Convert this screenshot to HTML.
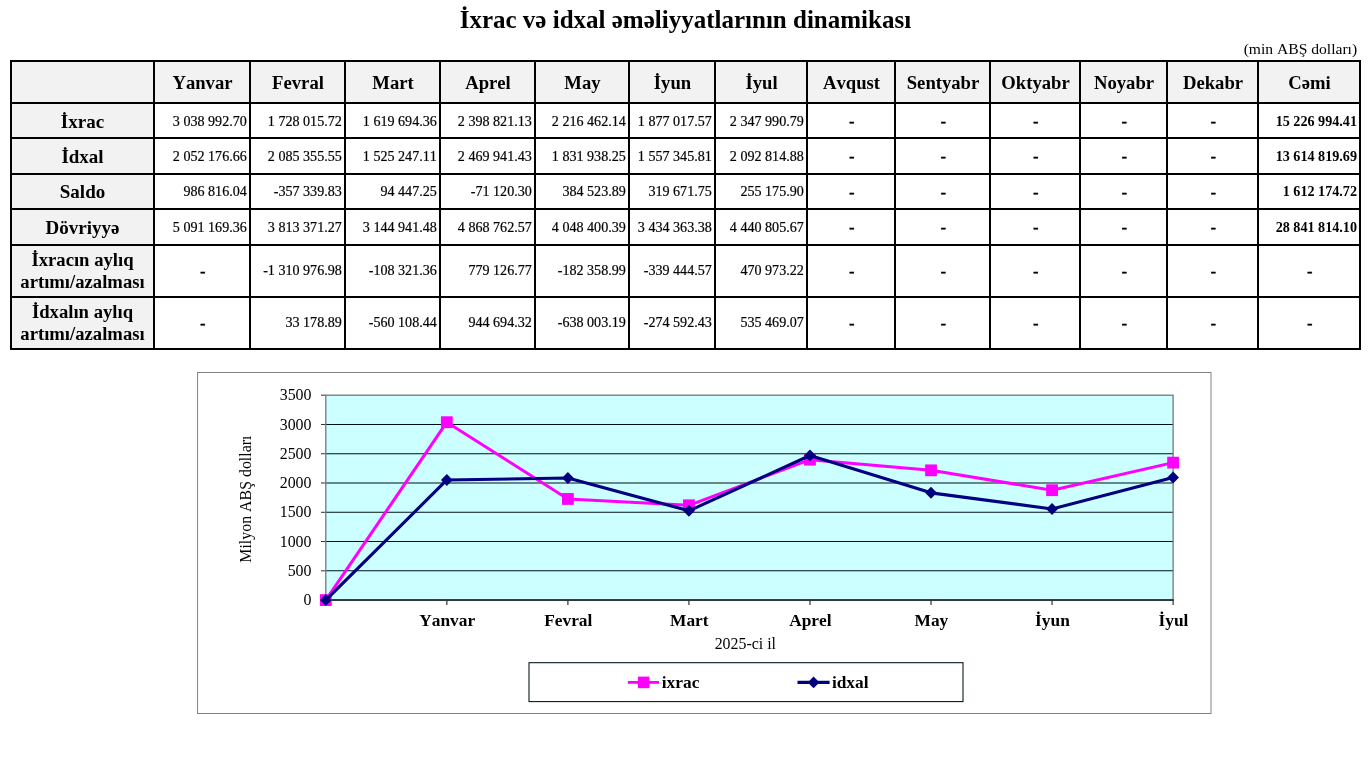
<!DOCTYPE html>
<html lang="az"><head><meta charset="utf-8"><title>İxrac və idxal əməliyyatlarının dinamikası</title>
<style>
html,body{margin:0;padding:0;background:#fff;}
body{width:1372px;height:771px;position:relative;overflow:hidden;font-family:"Liberation Serif","Times New Roman",serif;color:#000;font-kerning:none;font-variant-ligatures:none;}
.abs{position:absolute;}
h1{position:absolute;left:-0.6px;top:4.7px;width:1372px;margin:0;text-align:center;font-size:25px;font-weight:bold;line-height:30px;}
.unit{position:absolute;right:14.9px;top:39.8px;font-size:15.6px;line-height:18px;}
.c{position:absolute;display:flex;align-items:center;box-sizing:border-box;white-space:nowrap;}
.h{justify-content:center;font-weight:bold;font-size:18.67px;background:#f2f2f2;padding-top:1.5px;padding-left:1px;}
.l{justify-content:center;font-weight:bold;font-size:18.67px;background:#f2f2f2;text-align:center;line-height:22.5px;}
.n{justify-content:flex-end;font-size:14.1px;padding-right:3.2px;padding-top:2px;-webkit-text-stroke:0.2px #000;}
.d{justify-content:center;font-size:15.3px;font-weight:bold;padding-top:0.4px;padding-left:1.6px;-webkit-text-stroke:0.6px #000;}
.t{justify-content:flex-end;font-size:14.15px;font-weight:bold;padding-right:3px;padding-top:2px;}
svg{position:absolute;left:0;top:0;}
svg text{font-family:"Liberation Serif","Times New Roman",serif;font-kerning:none;}
</style></head><body>
<h1>İxrac və idxal əməliyyatlarının dinamikası</h1>
<div class="unit">(min ABŞ dolları)</div>

<div class="c h" style="left:11px;top:61px;width:143.0px;height:42.0px"></div>
<div class="c h" style="left:154px;top:61px;width:96.0px;height:42.0px">Yanvar</div>
<div class="c h" style="left:250px;top:61px;width:95.0px;height:42.0px">Fevral</div>
<div class="c h" style="left:345px;top:61px;width:95.0px;height:42.0px">Mart</div>
<div class="c h" style="left:440px;top:61px;width:95.0px;height:42.0px">Aprel</div>
<div class="c h" style="left:535px;top:61px;width:94.0px;height:42.0px">May</div>
<div class="c h" style="left:629px;top:61px;width:86.0px;height:42.0px">İyun</div>
<div class="c h" style="left:715px;top:61px;width:92.0px;height:42.0px">İyul</div>
<div class="c h" style="left:807px;top:61px;width:88.0px;height:42.0px">Avqust</div>
<div class="c h" style="left:895px;top:61px;width:95.0px;height:42.0px">Sentyabr</div>
<div class="c h" style="left:990px;top:61px;width:90.0px;height:42.0px">Oktyabr</div>
<div class="c h" style="left:1080px;top:61px;width:87.0px;height:42.0px">Noyabr</div>
<div class="c h" style="left:1167px;top:61px;width:91.0px;height:42.0px">Dekabr</div>
<div class="c h" style="left:1258px;top:61px;width:102.0px;height:42.0px">Cəmi</div>
<div class="c l" style="left:11px;top:103px;width:143.0px;height:35.0px;padding-top:3.4px;font-size:19px"><span>İxrac</span></div>
<div class="c n" style="left:154px;top:103px;width:96.0px;height:35.0px">3 038 992.70</div>
<div class="c n" style="left:250px;top:103px;width:95.0px;height:35.0px">1 728 015.72</div>
<div class="c n" style="left:345px;top:103px;width:95.0px;height:35.0px">1 619 694.36</div>
<div class="c n" style="left:440px;top:103px;width:95.0px;height:35.0px">2 398 821.13</div>
<div class="c n" style="left:535px;top:103px;width:94.0px;height:35.0px">2 216 462.14</div>
<div class="c n" style="left:629px;top:103px;width:86.0px;height:35.0px">1 877 017.57</div>
<div class="c n" style="left:715px;top:103px;width:92.0px;height:35.0px">2 347 990.79</div>
<div class="c d" style="left:807px;top:103px;width:88.0px;height:35.0px">-</div>
<div class="c d" style="left:895px;top:103px;width:95.0px;height:35.0px">-</div>
<div class="c d" style="left:990px;top:103px;width:90.0px;height:35.0px">-</div>
<div class="c d" style="left:1080px;top:103px;width:87.0px;height:35.0px">-</div>
<div class="c d" style="left:1167px;top:103px;width:91.0px;height:35.0px">-</div>
<div class="c t" style="left:1258px;top:103px;width:102.0px;height:35.0px">15 226 994.41</div>
<div class="c l" style="left:11px;top:138px;width:143.0px;height:36.0px;padding-top:3.4px;font-size:19px"><span>İdxal</span></div>
<div class="c n" style="left:154px;top:137px;width:96.0px;height:36.0px">2 052 176.66</div>
<div class="c n" style="left:250px;top:137px;width:95.0px;height:36.0px">2 085 355.55</div>
<div class="c n" style="left:345px;top:137px;width:95.0px;height:36.0px">1 525 247.11</div>
<div class="c n" style="left:440px;top:137px;width:95.0px;height:36.0px">2 469 941.43</div>
<div class="c n" style="left:535px;top:137px;width:94.0px;height:36.0px">1 831 938.25</div>
<div class="c n" style="left:629px;top:137px;width:86.0px;height:36.0px">1 557 345.81</div>
<div class="c n" style="left:715px;top:137px;width:92.0px;height:36.0px">2 092 814.88</div>
<div class="c d" style="left:807px;top:138px;width:88.0px;height:36.0px">-</div>
<div class="c d" style="left:895px;top:138px;width:95.0px;height:36.0px">-</div>
<div class="c d" style="left:990px;top:138px;width:90.0px;height:36.0px">-</div>
<div class="c d" style="left:1080px;top:138px;width:87.0px;height:36.0px">-</div>
<div class="c d" style="left:1167px;top:138px;width:91.0px;height:36.0px">-</div>
<div class="c t" style="left:1258px;top:137px;width:102.0px;height:36.0px">13 614 819.69</div>
<div class="c l" style="left:11px;top:174px;width:143.0px;height:35.0px;padding-top:1.4px;font-size:19px"><span>Saldo</span></div>
<div class="c n" style="left:154px;top:173px;width:96.0px;height:35.0px">986 816.04</div>
<div class="c n" style="left:250px;top:173px;width:95.0px;height:35.0px">-357 339.83</div>
<div class="c n" style="left:345px;top:173px;width:95.0px;height:35.0px">94 447.25</div>
<div class="c n" style="left:440px;top:173px;width:95.0px;height:35.0px">-71 120.30</div>
<div class="c n" style="left:535px;top:173px;width:94.0px;height:35.0px">384 523.89</div>
<div class="c n" style="left:629px;top:173px;width:86.0px;height:35.0px">319 671.75</div>
<div class="c n" style="left:715px;top:173px;width:92.0px;height:35.0px">255 175.90</div>
<div class="c d" style="left:807px;top:174px;width:88.0px;height:35.0px">-</div>
<div class="c d" style="left:895px;top:174px;width:95.0px;height:35.0px">-</div>
<div class="c d" style="left:990px;top:174px;width:90.0px;height:35.0px">-</div>
<div class="c d" style="left:1080px;top:174px;width:87.0px;height:35.0px">-</div>
<div class="c d" style="left:1167px;top:174px;width:91.0px;height:35.0px">-</div>
<div class="c t" style="left:1258px;top:173px;width:102.0px;height:35.0px">1 612 174.72</div>
<div class="c l" style="left:11px;top:209px;width:143.0px;height:36.0px;padding-top:3.4px;font-size:19px"><span>Dövriyyə</span></div>
<div class="c n" style="left:154px;top:208px;width:96.0px;height:36.0px">5 091 169.36</div>
<div class="c n" style="left:250px;top:208px;width:95.0px;height:36.0px">3 813 371.27</div>
<div class="c n" style="left:345px;top:208px;width:95.0px;height:36.0px">3 144 941.48</div>
<div class="c n" style="left:440px;top:208px;width:95.0px;height:36.0px">4 868 762.57</div>
<div class="c n" style="left:535px;top:208px;width:94.0px;height:36.0px">4 048 400.39</div>
<div class="c n" style="left:629px;top:208px;width:86.0px;height:36.0px">3 434 363.38</div>
<div class="c n" style="left:715px;top:208px;width:92.0px;height:36.0px">4 440 805.67</div>
<div class="c d" style="left:807px;top:209px;width:88.0px;height:36.0px">-</div>
<div class="c d" style="left:895px;top:209px;width:95.0px;height:36.0px">-</div>
<div class="c d" style="left:990px;top:209px;width:90.0px;height:36.0px">-</div>
<div class="c d" style="left:1080px;top:209px;width:87.0px;height:36.0px">-</div>
<div class="c d" style="left:1167px;top:209px;width:91.0px;height:36.0px">-</div>
<div class="c t" style="left:1258px;top:208px;width:102.0px;height:36.0px">28 841 814.10</div>
<div class="c l" style="left:11px;top:245px;width:143.0px;height:52.0px;padding-top:0.4px"><span>İxracın aylıq<br>artımı/azalması</span></div>
<div class="c d" style="left:154px;top:245px;width:96.0px;height:52.0px">-</div>
<div class="c n" style="left:250px;top:243px;width:95.0px;height:52.0px">-1 310 976.98</div>
<div class="c n" style="left:345px;top:243px;width:95.0px;height:52.0px">-108 321.36</div>
<div class="c n" style="left:440px;top:243px;width:95.0px;height:52.0px">779 126.77</div>
<div class="c n" style="left:535px;top:243px;width:94.0px;height:52.0px">-182 358.99</div>
<div class="c n" style="left:629px;top:243px;width:86.0px;height:52.0px">-339 444.57</div>
<div class="c n" style="left:715px;top:243px;width:92.0px;height:52.0px">470 973.22</div>
<div class="c d" style="left:807px;top:245px;width:88.0px;height:52.0px">-</div>
<div class="c d" style="left:895px;top:245px;width:95.0px;height:52.0px">-</div>
<div class="c d" style="left:990px;top:245px;width:90.0px;height:52.0px">-</div>
<div class="c d" style="left:1080px;top:245px;width:87.0px;height:52.0px">-</div>
<div class="c d" style="left:1167px;top:245px;width:91.0px;height:52.0px">-</div>
<div class="c d" style="left:1258px;top:245px;width:102.0px;height:52.0px">-</div>
<div class="c l" style="left:11px;top:297px;width:143.0px;height:52.0px;padding-top:0.0px"><span>İdxalın aylıq<br>artımı/azalması</span></div>
<div class="c d" style="left:154px;top:297px;width:96.0px;height:52.0px">-</div>
<div class="c n" style="left:250px;top:295px;width:95.0px;height:52.0px">33 178.89</div>
<div class="c n" style="left:345px;top:295px;width:95.0px;height:52.0px">-560 108.44</div>
<div class="c n" style="left:440px;top:295px;width:95.0px;height:52.0px">944 694.32</div>
<div class="c n" style="left:535px;top:295px;width:94.0px;height:52.0px">-638 003.19</div>
<div class="c n" style="left:629px;top:295px;width:86.0px;height:52.0px">-274 592.43</div>
<div class="c n" style="left:715px;top:295px;width:92.0px;height:52.0px">535 469.07</div>
<div class="c d" style="left:807px;top:297px;width:88.0px;height:52.0px">-</div>
<div class="c d" style="left:895px;top:297px;width:95.0px;height:52.0px">-</div>
<div class="c d" style="left:990px;top:297px;width:90.0px;height:52.0px">-</div>
<div class="c d" style="left:1080px;top:297px;width:87.0px;height:52.0px">-</div>
<div class="c d" style="left:1167px;top:297px;width:91.0px;height:52.0px">-</div>
<div class="c d" style="left:1258px;top:297px;width:102.0px;height:52.0px">-</div>
<svg width="1372" height="771" viewBox="0 0 1372 771">
<g stroke="#000" fill="none">
<line x1="11" y1="60" x2="11" y2="350" stroke-width="2"/>
<line x1="154" y1="60" x2="154" y2="350" stroke-width="2"/>
<line x1="250" y1="60" x2="250" y2="350" stroke-width="2"/>
<line x1="345" y1="60" x2="345" y2="350" stroke-width="2"/>
<line x1="440" y1="60" x2="440" y2="350" stroke-width="2"/>
<line x1="535" y1="60" x2="535" y2="350" stroke-width="2"/>
<line x1="629" y1="60" x2="629" y2="350" stroke-width="2"/>
<line x1="715" y1="60" x2="715" y2="350" stroke-width="2"/>
<line x1="807" y1="60" x2="807" y2="350" stroke-width="2"/>
<line x1="895" y1="60" x2="895" y2="350" stroke-width="2"/>
<line x1="990" y1="60" x2="990" y2="350" stroke-width="2"/>
<line x1="1080" y1="60" x2="1080" y2="350" stroke-width="2"/>
<line x1="1167" y1="60" x2="1167" y2="350" stroke-width="2"/>
<line x1="1258" y1="60" x2="1258" y2="350" stroke-width="2"/>
<line x1="1360" y1="60" x2="1360" y2="350" stroke-width="2"/>
<line x1="10" y1="61" x2="1361" y2="61" stroke-width="2"/>
<line x1="10" y1="103" x2="1361" y2="103" stroke-width="2"/>
<line x1="10" y1="138" x2="1361" y2="138" stroke-width="2"/>
<line x1="10" y1="174" x2="1361" y2="174" stroke-width="2"/>
<line x1="10" y1="209" x2="1361" y2="209" stroke-width="2"/>
<line x1="10" y1="245" x2="1361" y2="245" stroke-width="2"/>
<line x1="10" y1="297" x2="1361" y2="297" stroke-width="2"/>
<line x1="10" y1="349" x2="1361" y2="349" stroke-width="2"/>
</g>
<rect x="197.55" y="372.5" width="1013.45" height="341.00" fill="#fff" stroke="#828282" stroke-width="1"/>
<rect x="325.8" y="395.2" width="847.30" height="204.90" fill="#ccffff"/>
<line x1="321.0" y1="600.10" x2="325.8" y2="600.10" stroke="#303030" stroke-width="1.0"/>
<text x="311.50" y="605.30" font-size="15.9" text-anchor="end">0</text>
<line x1="325.8" y1="570.83" x2="1173.1" y2="570.83" stroke="#001014" stroke-width="1.05"/>
<line x1="321.0" y1="570.83" x2="325.8" y2="570.83" stroke="#303030" stroke-width="1.0"/>
<text x="311.50" y="576.03" font-size="15.9" text-anchor="end">500</text>
<line x1="325.8" y1="541.56" x2="1173.1" y2="541.56" stroke="#001014" stroke-width="1.05"/>
<line x1="321.0" y1="541.56" x2="325.8" y2="541.56" stroke="#303030" stroke-width="1.0"/>
<text x="311.50" y="546.76" font-size="15.9" text-anchor="end">1000</text>
<line x1="325.8" y1="512.29" x2="1173.1" y2="512.29" stroke="#001014" stroke-width="1.05"/>
<line x1="321.0" y1="512.29" x2="325.8" y2="512.29" stroke="#303030" stroke-width="1.0"/>
<text x="311.50" y="517.49" font-size="15.9" text-anchor="end">1500</text>
<line x1="325.8" y1="483.01" x2="1173.1" y2="483.01" stroke="#001014" stroke-width="1.05"/>
<line x1="321.0" y1="483.01" x2="325.8" y2="483.01" stroke="#303030" stroke-width="1.0"/>
<text x="311.50" y="488.21" font-size="15.9" text-anchor="end">2000</text>
<line x1="325.8" y1="453.74" x2="1173.1" y2="453.74" stroke="#001014" stroke-width="1.05"/>
<line x1="321.0" y1="453.74" x2="325.8" y2="453.74" stroke="#303030" stroke-width="1.0"/>
<text x="311.50" y="458.94" font-size="15.9" text-anchor="end">2500</text>
<line x1="325.8" y1="424.47" x2="1173.1" y2="424.47" stroke="#001014" stroke-width="1.05"/>
<line x1="321.0" y1="424.47" x2="325.8" y2="424.47" stroke="#303030" stroke-width="1.0"/>
<text x="311.50" y="429.67" font-size="15.9" text-anchor="end">3000</text>
<line x1="321.0" y1="395.20" x2="325.8" y2="395.20" stroke="#303030" stroke-width="1.0"/>
<text x="311.50" y="400.40" font-size="15.9" text-anchor="end">3500</text>
<rect x="325.8" y="395.2" width="847.30" height="204.90" fill="none" stroke="#747878" stroke-width="1.3"/>
<line x1="325.2" y1="600.00" x2="1173.6999999999998" y2="600.00" stroke="#101818" stroke-width="1.6"/>
<line x1="325.80" y1="600.1" x2="325.80" y2="604.9" stroke="#303030" stroke-width="1.2"/>
<line x1="446.84" y1="600.1" x2="446.84" y2="604.9" stroke="#303030" stroke-width="1.2"/>
<text x="447.24" y="626.1" font-size="17.35" font-weight="bold" text-anchor="middle">Yanvar</text>
<line x1="567.89" y1="600.1" x2="567.89" y2="604.9" stroke="#303030" stroke-width="1.2"/>
<text x="568.29" y="626.1" font-size="17.35" font-weight="bold" text-anchor="middle">Fevral</text>
<line x1="688.93" y1="600.1" x2="688.93" y2="604.9" stroke="#303030" stroke-width="1.2"/>
<text x="689.33" y="626.1" font-size="17.35" font-weight="bold" text-anchor="middle">Mart</text>
<line x1="809.97" y1="600.1" x2="809.97" y2="604.9" stroke="#303030" stroke-width="1.2"/>
<text x="810.37" y="626.1" font-size="17.35" font-weight="bold" text-anchor="middle">Aprel</text>
<line x1="931.01" y1="600.1" x2="931.01" y2="604.9" stroke="#303030" stroke-width="1.2"/>
<text x="931.41" y="626.1" font-size="17.35" font-weight="bold" text-anchor="middle">May</text>
<line x1="1052.06" y1="600.1" x2="1052.06" y2="604.9" stroke="#303030" stroke-width="1.2"/>
<text x="1052.46" y="626.1" font-size="17.35" font-weight="bold" text-anchor="middle">İyun</text>
<line x1="1173.10" y1="600.1" x2="1173.10" y2="604.9" stroke="#303030" stroke-width="1.2"/>
<text x="1173.50" y="626.1" font-size="17.35" font-weight="bold" text-anchor="middle">İyul</text>
<text x="745.3" y="648.5" font-size="15.9" text-anchor="middle">2025-ci il</text>
<text transform="translate(251.1,499.15) rotate(-90)" font-size="15.9" text-anchor="middle">Milyon ABŞ dolları</text>
<polyline points="325.80,600.10 446.84,422.19 567.89,498.94 688.93,505.28 809.97,459.67 931.01,470.34 1052.06,490.21 1173.10,462.64" fill="none" stroke="#ff00ff" stroke-width="3" stroke-linejoin="round"/>
<rect x="319.90" y="594.20" width="11.8" height="11.8" fill="#ff00ff"/>
<rect x="440.94" y="416.29" width="11.8" height="11.8" fill="#ff00ff"/>
<rect x="561.99" y="493.04" width="11.8" height="11.8" fill="#ff00ff"/>
<rect x="683.03" y="499.38" width="11.8" height="11.8" fill="#ff00ff"/>
<rect x="804.07" y="453.77" width="11.8" height="11.8" fill="#ff00ff"/>
<rect x="925.11" y="464.44" width="11.8" height="11.8" fill="#ff00ff"/>
<rect x="1046.16" y="484.31" width="11.8" height="11.8" fill="#ff00ff"/>
<rect x="1167.20" y="456.74" width="11.8" height="11.8" fill="#ff00ff"/>
<polyline points="325.80,600.10 446.84,479.96 567.89,478.02 688.93,510.81 809.97,455.50 931.01,492.85 1052.06,508.93 1173.10,477.58" fill="none" stroke="#000080" stroke-width="3.1" stroke-linejoin="round"/>
<polygon points="325.80,594.10 331.70,600.10 325.80,606.10 319.90,600.10" fill="#000080"/>
<polygon points="446.84,473.96 452.74,479.96 446.84,485.96 440.94,479.96" fill="#000080"/>
<polygon points="567.89,472.02 573.79,478.02 567.89,484.02 561.99,478.02" fill="#000080"/>
<polygon points="688.93,504.81 694.83,510.81 688.93,516.81 683.03,510.81" fill="#000080"/>
<polygon points="809.97,449.50 815.87,455.50 809.97,461.50 804.07,455.50" fill="#000080"/>
<polygon points="931.01,486.85 936.91,492.85 931.01,498.85 925.11,492.85" fill="#000080"/>
<polygon points="1052.06,502.93 1057.96,508.93 1052.06,514.93 1046.16,508.93" fill="#000080"/>
<polygon points="1173.10,471.58 1179.00,477.58 1173.10,483.58 1167.20,477.58" fill="#000080"/>
<rect x="529" y="662.7" width="434" height="38.9" fill="#fff" stroke="#001014" stroke-width="1.05"/>
<line x1="627.8" y1="682.4" x2="659" y2="682.4" stroke="#ff00ff" stroke-width="2.8"/>
<rect x="637.9" y="676.6" width="11.6" height="11.6" fill="#ff00ff"/>
<text x="661.8" y="687.5" font-size="17.35" font-weight="bold">ixrac</text>
<line x1="797.5" y1="682.4" x2="829.6" y2="682.4" stroke="#000080" stroke-width="3.1"/>
<polygon points="813.6,676.5 819.4,682.4 813.6,688.3 807.8,682.4" fill="#000080"/>
<text x="831.9" y="687.5" font-size="17.35" font-weight="bold">idxal</text>
</svg>
</body></html>
